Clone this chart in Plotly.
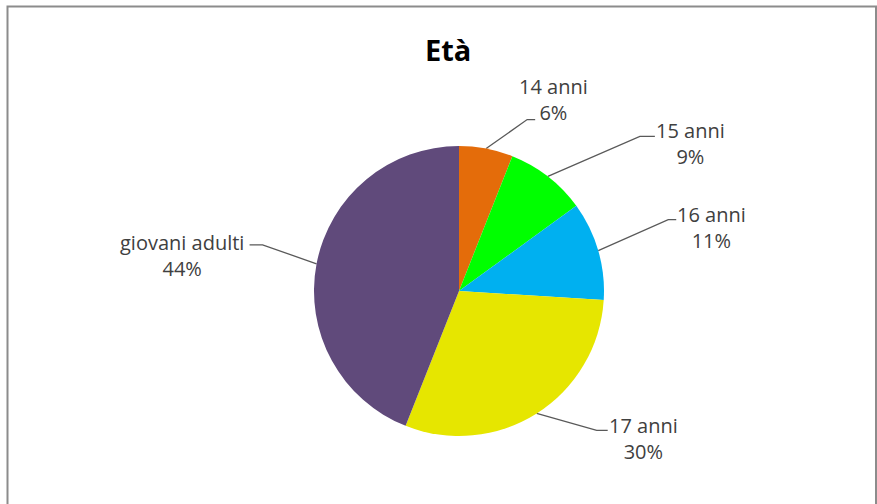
import math
import plotly.graph_objects as go

# ---- data ----
categories = ["14 anni", "15 anni", "16 anni", "17 anni", "giovani adulti"]
values = [6, 9, 11, 30, 44]
colors = ["#E46C0A", "#00FF00", "#00B0F0", "#E6E600", "#604A7B"]
title_text = "Età"

# ---- layout (pixels) ----
W, H = 877, 504
CX, CY, R = 459, 291, 145
FONT = "'Open Sans', sans-serif"

# per-label layout: elbow offset from anchor, horizontal tail length,
# text centre offset from tail end
label_layout = {
    "14 anni": dict(elbow=(41, -29), tail=8, text=(18, -20)),
    "15 anni": dict(elbow=(92, -40), tail=15, text=(36, 7)),
    "16 anni": dict(elbow=(70, -31), tail=8, text=(35, 8)),
    "17 anni": dict(elbow=(60, 17), tail=11, text=(36, 8)),
    "giovani adulti": dict(elbow=(-54, -19), tail=-13, text=(-68, 11)),
}

fig = go.Figure()

fig.add_trace(go.Pie(
    labels=categories,
    values=values,
    marker=dict(colors=colors, line=dict(width=0)),
    sort=False,
    direction="clockwise",
    rotation=0,
    textinfo="none",
    hoverinfo="label+percent",
    showlegend=False,
    domain=dict(x=[(CX - R) / W, (CX + R) / W],
                y=[(H - CY - R) / H, (H - CY + R) / H]),
))

# invisible pixel-coordinate axes for leader lines
fig.add_trace(go.Scatter(x=[0, W], y=[0, H], mode="markers",
                         marker=dict(opacity=0), hoverinfo="skip",
                         showlegend=False))

total = sum(values)
cum = 0
for cat, v in zip(categories, values):
    mid = (cum + v / 2) / total * 2 * math.pi
    cum += v
    ax = CX + R * math.sin(mid)
    ay = CY - R * math.cos(mid)
    lay = label_layout[cat]
    ex, ey = ax + lay["elbow"][0], ay + lay["elbow"][1]
    tx = ex + lay["tail"]
    fig.add_trace(go.Scatter(
        x=[ax, ex, tx], y=[ay, ey, ey], mode="lines",
        line=dict(color="#595959", width=1.3),
        hoverinfo="skip", showlegend=False,
    ))
    pct = round(v / total * 100)
    fig.add_annotation(
        x=tx + lay["text"][0], y=ey + lay["text"][1],
        xref="x", yref="y",
        text=f"{cat}<br>{pct}%",
        showarrow=False,
        xanchor="center", yanchor="middle",
        align="center",
        font=dict(family=FONT, size=20, color="#404040"),
    )

fig.add_annotation(
    x=448, y=49, xref="x", yref="y", text=f"<b>{title_text}</b>",
    showarrow=False, xanchor="center", yanchor="middle",
    font=dict(family=FONT, size=29, color="#000000"),
)

# chart frame
fig.add_shape(type="rect", x0=7.5, y0=6.5, x1=876, y1=520,
              xref="x", yref="y", line=dict(color="#8C8C8C", width=2),
              fillcolor="rgba(0,0,0,0)", layer="above")

fig.update_layout(
    width=W, height=H, autosize=False,
    margin=dict(l=0, r=0, t=0, b=0),
    paper_bgcolor="white", plot_bgcolor="rgba(0,0,0,0)",
    xaxis=dict(range=[0, W], visible=False, fixedrange=True),
    yaxis=dict(range=[H, 0], visible=False, fixedrange=True),
)

fig.write_html(
    "out.html",
    config={"displayModeBar": False},
    post_script="document.body.style.margin='0';document.body.style.overflow='hidden';",
)
